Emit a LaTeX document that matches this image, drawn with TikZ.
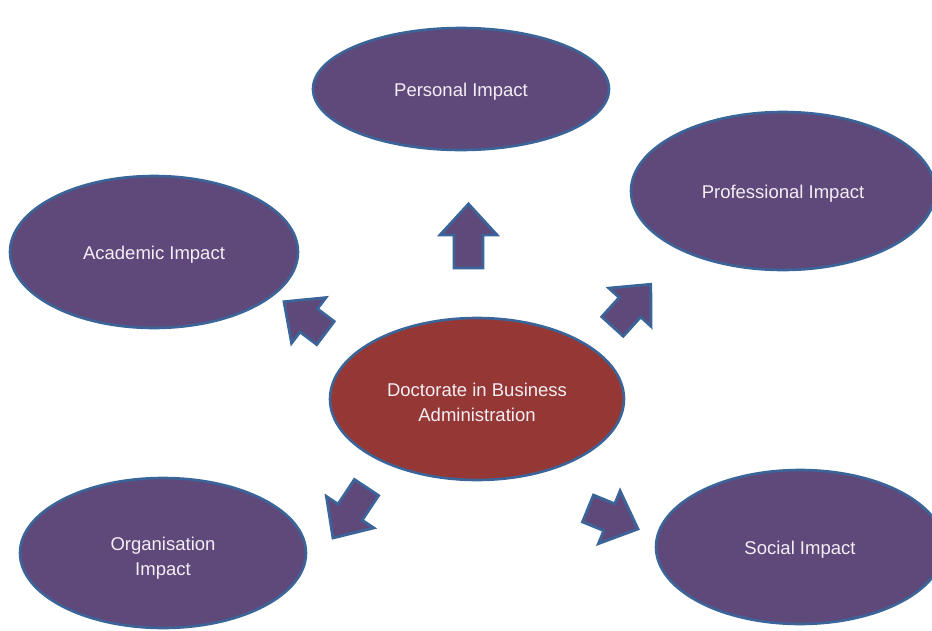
\documentclass[tikz,border=0pt]{standalone}
\usepackage{fontspec}
\setmainfont{Liberation Sans}
\usetikzlibrary{shapes.geometric}
\definecolor{impactfill}{HTML}{5F497A}
\definecolor{corefill}{HTML}{953735}
\definecolor{rimblue}{HTML}{3B6498}
\definecolor{labeltext}{HTML}{F4EEF4}
\tikzset{
  impact/.style={ellipse, draw=rimblue, line width=2.6pt, fill=impactfill, inner sep=0pt},
  core/.style={impact, fill=corefill},
  lbl/.style={text=labeltext, align=center, inner sep=0pt, font=\fontsize{18.5}{25}\selectfont},
  blockarrow/.style={draw=rimblue, line width=2.8pt, fill=impactfill, line join=miter},
}
\newcommand{\blkarrow}[4]{%
  \draw[blockarrow, shift={(#1,#2)}, rotate=#3]
    (0,-14.5) -- (#4-31,-14.5) -- (#4-31,-28.5) -- (#4,0) -- (#4-31,28.5) -- (#4-31,14.5) -- (0,14.5) -- cycle;}
\begin{document}
\begin{tikzpicture}[x=1pt,y=-1pt]
\useasboundingbox (0,0) rectangle (932,630);
\clip (0,0) rectangle (932,630);
\node[impact, minimum width=296pt, minimum height=122pt] (personal) at (461,89) {};
\node[impact, minimum width=304pt, minimum height=158pt] (professional) at (783,191) {};
\node[impact, minimum width=288pt, minimum height=152pt] (academic) at (154,252) {};
\node[core, minimum width=294pt, minimum height=162pt] (dba) at (477,399) {};
\node[impact, minimum width=286pt, minimum height=150pt] (organisation) at (163,553) {};
\node[impact, minimum width=288pt, minimum height=154pt] (social) at (800,547) {};
\node[lbl, yshift=-3pt] (personal-t) at (personal) {Personal Impact};
\node[lbl, yshift=-3pt] (professional-t) at (professional) {Professional Impact};
\node[lbl, yshift=-3pt] (academic-t) at (academic) {Academic Impact};
\node[lbl, yshift=-3pt] (dba-t) at (dba) {Doctorate in Business\\Administration};
\node[lbl, yshift=-5pt] (organisation-t) at (organisation) {Organisation\\Impact};
\node[lbl, yshift=-3pt] (social-t) at (social) {Social Impact};
\blkarrow{468.5}{268}{90}{64}
\blkarrow{612.5}{326.5}{47.8}{57}
\blkarrow{325.5}{333}{143}{52}
\blkarrow{366.5}{487.5}{236.4}{60.6}
\blkarrow{588}{508.5}{-22.3}{54}
\end{tikzpicture}
\end{document}
